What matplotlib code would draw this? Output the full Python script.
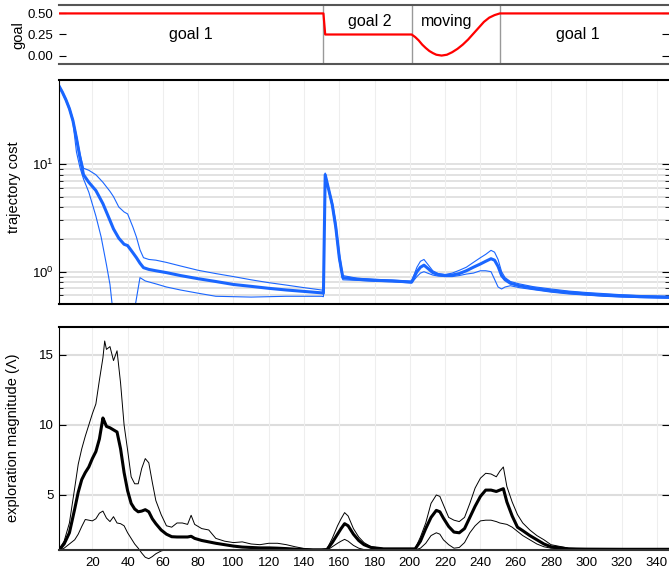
import matplotlib
matplotlib.use('Agg')
import matplotlib.pyplot as plt
from matplotlib.ticker import FixedLocator, NullFormatter

plt.rcParams['font.family'] = ['Liberation Sans', 'DejaVu Sans']

# goal signal
goal_x = [1, 151, 152, 201, 203, 205, 207, 209, 211, 213, 215, 218, 221, 224, 227, 230,
          233, 236, 239, 242, 245, 248, 251, 350]
goal_y = [0.5, 0.5, 0.25, 0.25, 0.22, 0.18, 0.13, 0.09, 0.055, 0.03, 0.01, 0.0, 0.01, 0.04,
          0.08, 0.13, 0.19, 0.26, 0.33, 0.40, 0.45, 0.48, 0.5, 0.5]
goal_switch = [151, 201, 251]
goal_names = ['goal 1', 'goal 2', 'moving', 'goal 1']
goal_name_x = [76, 177, 221, 295]
goal_name_y = [0.25, 0.41, 0.41, 0.25]

# trajectory cost (mean, upper, lower)
cost_x = [1, 3, 5, 7, 9, 11, 13, 15, 18, 22, 26, 30, 32, 35, 38, 40, 43, 45, 47, 49, 52, 56,
          62, 70, 80, 90, 100, 110, 120, 130, 140, 150, 151, 152, 154, 156, 158, 160, 162,
          170, 180, 190, 201, 204, 206, 208, 210, 213, 216, 220, 224, 228, 232, 236, 240,
          243, 246, 248, 250, 252, 254, 257, 262, 270, 280, 290, 300, 310, 320, 330, 340, 350]
cost_mean = [54, 47, 40, 33, 25.5, 17.5, 11.5, 8.0, 6.8, 5.7, 4.3, 3.0, 2.5, 2.05, 1.8, 1.75,
             1.5, 1.35, 1.2, 1.09, 1.05, 1.02, 0.98, 0.92, 0.86, 0.81, 0.76, 0.73, 0.70, 0.675,
             0.655, 0.635, 0.63, 8.0, 5.8, 4.2, 2.6, 1.35, 0.88, 0.85, 0.83, 0.82, 0.80, 1.0,
             1.1, 1.15, 1.08, 0.98, 0.94, 0.92, 0.93, 0.96, 1.02, 1.1, 1.18, 1.25, 1.32, 1.28,
             1.12, 0.92, 0.84, 0.78, 0.74, 0.70, 0.665, 0.64, 0.62, 0.605, 0.595, 0.585, 0.58,
             0.575]
cost_hi = [55, 48, 41, 34, 26.5, 18.5, 12.5, 9.2, 8.8, 8.0, 6.8, 5.6, 5.0, 4.0, 3.6, 3.45,
           2.6, 2.1, 1.6, 1.35, 1.3, 1.28, 1.22, 1.13, 1.03, 0.96, 0.90, 0.84, 0.79, 0.75,
           0.71, 0.675, 0.67, 8.3, 6.0, 4.5, 2.9, 1.5, 0.92, 0.87, 0.85, 0.835, 0.815, 1.1,
           1.25, 1.3, 1.18, 1.02, 0.96, 0.94, 0.97, 1.03, 1.1, 1.22, 1.35, 1.45, 1.58, 1.52,
           1.3, 1.0, 0.88, 0.81, 0.77, 0.725, 0.69, 0.66, 0.64, 0.625, 0.61, 0.60, 0.595, 0.59]
cost_lo_x = [1, 3, 5, 7, 9, 11, 13, 15, 18, 22, 25, 28, 30, 31.5, 33, 40, 43, 44, 47, 50, 56,
             62, 70, 80, 90, 100, 110, 120, 130, 140, 150, 151, 152, 154, 156, 158, 160, 162,
             170, 180, 190, 201, 204, 206, 208, 210, 213, 216, 220, 224, 228, 232, 236, 240,
             243, 246, 248, 250, 252, 254, 257, 262, 270, 280, 290, 300, 310, 320, 330, 340, 350]
cost_lo = [53, 46, 39, 32, 24.5, 13, 9.3, 7.3, 5.5, 3.3, 2.1, 1.16, 0.76, 0.45, 0.3, 0.3, 0.3,
           0.45, 0.88, 0.82, 0.77, 0.72, 0.675, 0.63, 0.59, 0.585, 0.58, 0.585, 0.59, 0.59,
           0.59, 0.585, 7.9, 5.6, 4.0, 2.4, 1.25, 0.84, 0.83, 0.815, 0.805, 0.785, 0.9, 0.97,
           1.0, 0.97, 0.93, 0.91, 0.9, 0.9, 0.92, 0.95, 0.97, 1.02, 1.02, 1.0, 0.85, 0.72, 0.69,
           0.72, 0.74, 0.71, 0.68, 0.645, 0.62, 0.605, 0.59, 0.58, 0.575, 0.57, 0.565]

# exploration magnitude (mean, upper, lower)
exp_x = [1, 4, 7, 10, 12, 14, 16, 18, 20, 22, 24, 26, 27, 28, 30, 32, 34, 36, 38, 40, 42, 44,
         46, 48, 50, 52, 54, 56, 59, 62, 65, 68, 71, 74, 76, 78, 82, 86, 90, 95, 100, 105, 110,
         115, 120, 125, 130, 135, 140, 145, 150, 153, 156, 159, 161, 163, 165, 168, 171, 174,
         178, 185, 195, 203, 206, 209, 212, 215, 217, 219, 222, 225, 228, 231, 234, 237, 240,
         243, 246, 249, 251, 253, 255, 258, 261, 264, 268, 272, 276, 280, 290, 300, 320, 350]
exp_mean = [1.05, 1.5, 2.3, 4.0, 5.2, 6.1, 6.6, 7.0, 7.6, 8.1, 9.0, 10.5, 10.2, 9.9, 9.8, 9.65,
            9.5, 8.3, 6.6, 5.3, 4.4, 4.0, 3.8, 3.85, 3.95, 3.8, 3.3, 2.95, 2.5, 2.2, 2.02, 2.0,
            2.0, 2.0, 2.05, 1.9, 1.75, 1.65, 1.55, 1.45, 1.35, 1.28, 1.25, 1.22, 1.22, 1.2,
            1.17, 1.13, 1.1, 1.08, 1.08, 1.1, 1.6, 2.2, 2.6, 2.95, 2.8, 2.2, 1.75, 1.45, 1.25,
            1.15, 1.15, 1.15, 1.7, 2.6, 3.4, 3.9, 3.8, 3.35, 2.75, 2.35, 2.3, 2.6, 3.4, 4.2,
            4.9, 5.35, 5.35, 5.25, 5.35, 5.45, 4.5, 3.5, 2.7, 2.45, 2.1, 1.8, 1.5, 1.3, 1.15,
            1.13, 1.12, 1.12]
exp_hi = [1.1, 1.7, 3.0, 5.5, 7.2, 8.3, 9.2, 10.0, 10.8, 11.5, 13.2, 14.8, 16.0, 15.4, 15.6,
          14.6, 15.3, 13.0, 10.0, 8.2, 6.3, 5.8, 5.8, 6.9, 7.6, 7.3, 5.9, 4.6, 3.6, 2.8, 2.7,
          3.0, 3.0, 2.9, 3.55, 2.9, 2.6, 2.5, 1.9, 1.7, 1.6, 1.65, 1.5, 1.45, 1.55, 1.55, 1.45,
          1.3, 1.18, 1.12, 1.12, 1.15, 1.9, 2.8, 3.3, 3.74, 3.5, 2.6, 2.0, 1.6, 1.3, 1.18,
          1.17, 1.17, 2.0, 3.0, 4.4, 5.0, 4.9, 4.3, 3.4, 3.2, 3.1, 3.4, 4.4, 5.5, 6.2, 6.55,
          6.5, 6.3, 6.7, 7.0, 5.6, 4.5, 3.6, 3.0, 2.5, 2.1, 1.8, 1.45, 1.2, 1.15, 1.13, 1.13]
exp_lo = [1.05, 1.2, 1.5, 1.8, 2.2, 2.75, 3.25, 3.2, 3.15, 3.3, 3.7, 3.85, 3.6, 3.35, 3.1,
          3.45, 3.0, 2.95, 2.8, 2.3, 1.9, 1.5, 1.2, 0.85, 0.55, 0.45, 0.6, 0.8, 1.0, 1.1, 1.08,
          1.05, 1.05, 1.05, 1.05, 1.05, 1.05, 1.05, 1.05, 1.05, 1.05, 1.05, 1.05, 1.05, 1.05,
          1.05, 1.05, 1.05, 1.05, 1.05, 1.05, 1.05, 1.3, 1.55, 1.7, 1.83, 1.7, 1.4, 1.2, 1.1,
          1.08, 1.08, 1.08, 1.08, 1.2, 1.55, 2.1, 2.3, 2.2, 1.8, 1.45, 1.2, 1.25, 1.6, 2.3, 2.8,
          3.15, 3.2, 3.2, 3.1, 3.0, 2.95, 2.9, 2.7, 2.4, 2.1, 1.8, 1.5, 1.3, 1.2, 1.1, 1.08,
          1.08, 1.08]

W, H = 669, 572
XMIN, XMAX = 1.1, 346.9
blue = '#1a66ff'
fig = plt.figure(figsize=(W / 100, H / 100), dpi=100)

def box(top, bottom):
    return [59 / W, 1 - bottom / H, 1 - 59 / W, (bottom - top) / H]

ax_goal = fig.add_axes(box(5, 64))
ax_cost = fig.add_axes(box(80, 304))
ax_exp = fig.add_axes(box(327, 550))

for ax in (ax_goal, ax_cost, ax_exp):
    ax.set_xlim(XMIN, XMAX)
    ax.spines['right'].set_visible(False)
    ax.tick_params(axis='y', direction='in', length=5, right=True, labelsize=9.5, pad=4)

# --- goal panel
ax_goal.plot(goal_x, goal_y, color='red', lw=1.6, zorder=3)
for s in goal_switch:
    ax_goal.axvline(s, color='#999999', lw=1, zorder=1)
for name, tx, ty in zip(goal_names, goal_name_x, goal_name_y):
    ax_goal.text(tx, ty, name, ha='center', va='center', fontsize=11.5)
ax_goal.set_ylim(-0.1, 0.6)
ax_goal.set_yticks([0, 0.25, 0.5])
ax_goal.set_yticklabels(['0.00', '0.25', '0.50'])
ax_goal.set_xticks([])
for side in ('top', 'bottom'):
    ax_goal.spines[side].set_color('#555555')
    ax_goal.spines[side].set_linewidth(1.5)
ax_goal.spines['left'].set_visible(False)

# --- cost panel
ax_cost.set_yscale('log')
ax_cost.set_ylim(0.5, 61)
grid_vals = [0.6, 0.7, 0.8, 0.9, 1, 2, 3, 4, 5, 6, 7, 8, 9, 10]
for g in grid_vals:
    ax_cost.axhline(g, color='#dddddd', lw=1.2, zorder=0)
for g in range(20, 341, 20):
    ax_cost.axvline(g, color='#eeeeee', lw=0.8, zorder=0)
ax_cost.plot(cost_x, cost_hi, color=blue, lw=0.8)
ax_cost.plot(cost_lo_x, cost_lo, color=blue, lw=0.8)
ax_cost.plot(cost_x, cost_mean, color=blue, lw=2.2)
ax_cost.set_yticks([1, 10])
ax_cost.yaxis.set_minor_locator(FixedLocator([0.6, 0.7, 0.8, 0.9, 2, 3, 4, 5, 6, 7, 8, 9]))
ax_cost.yaxis.set_minor_formatter(NullFormatter())
ax_cost.tick_params(axis='y', which='minor', direction='in', length=3, right=True)
ax_cost.set_xticks([])
ax_cost.spines['top'].set_linewidth(1.5)
ax_cost.spines['bottom'].set_linewidth(1.5)
ax_cost.spines['bottom'].set_linestyle((0, (1, 1)))
ax_cost.spines['left'].set_linewidth(0.8)
ax_cost.spines['left'].set_linestyle((0, (1, 1)))

# --- exploration panel
ax_exp.set_ylim(1.07, 17)
for g in [5, 10, 15]:
    ax_exp.axhline(g, color='#dddddd', lw=1.5, zorder=0)
for g in range(20, 341, 20):
    ax_exp.axvline(g, color='#eeeeee', lw=0.8, zorder=0)
ax_exp.plot(exp_x, exp_hi, color='black', lw=0.7)
ax_exp.plot(exp_x, exp_lo, color='black', lw=0.7, clip_on=False)
ax_exp.plot(exp_x, exp_mean, color='black', lw=2.2)
ax_exp.set_yticks([5, 10, 15])
ax_exp.set_xticks(range(20, 341, 20))
ax_exp.tick_params(axis='x', length=0, pad=5, labelsize=9.5)
ax_exp.spines['top'].set_linewidth(1.5)
ax_exp.spines['bottom'].set_linewidth(1.5)
ax_exp.spines['bottom'].set_color('#333333')
ax_exp.spines['left'].set_linewidth(0.8)
ax_exp.spines['left'].set_linestyle((0, (1, 1)))

fig.text(18 / W, 1 - 35 / H, 'goal', rotation=90, ha='center', va='center', fontsize=10.5)
fig.text(14 / W, 1 - 187 / H, 'trajectory cost', rotation=90, ha='center', va='center',
         fontsize=10.5)
fig.text(13 / W, 1 - 438 / H, 'exploration magnitude (Λ)', rotation=90, ha='center',
         va='center', fontsize=10.5)

fig.savefig('out.png', dpi=100)
